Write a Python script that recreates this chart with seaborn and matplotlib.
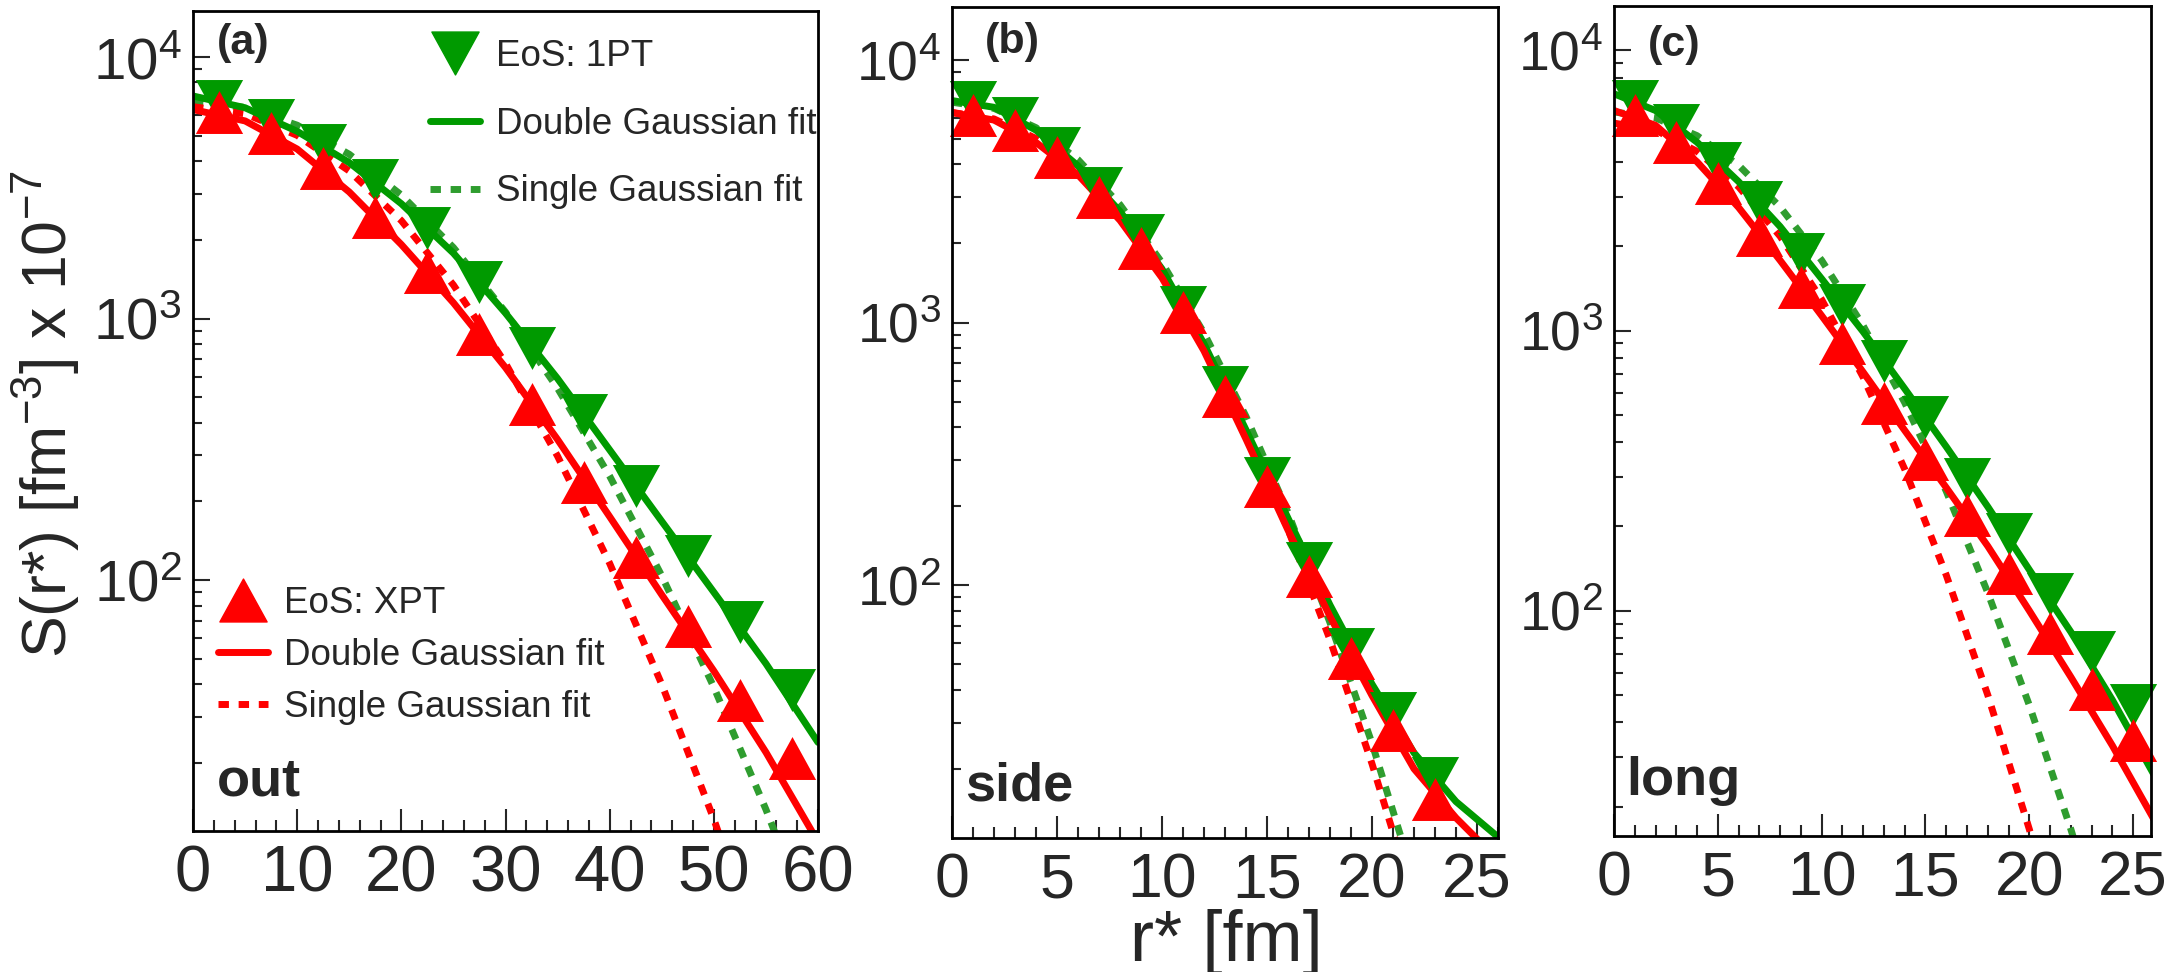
import numpy as np
import pandas as pd
import matplotlib
matplotlib.use("Agg")
import matplotlib.pyplot as plt
import seaborn as sns
from matplotlib.lines import Line2D
from matplotlib.path import Path
from matplotlib.markers import MarkerStyle
from matplotlib.ticker import LogLocator, NullFormatter, LogFormatterSciNotation, MultipleLocator

# ---------------- data ----------------
# panel (a) out
r_a = [2.5, 7.5, 12.5, 17.5, 22.5, 27.5, 32.5, 37.5, 42.5, 47.5, 52.5, 57.5]
s_a_1pt = [6800, 5750, 4600, 3400, 2230, 1380, 770, 430, 229, 124, 69, 38]
s_a_xpt = [6150, 5130, 3760, 2450, 1510, 870, 470, 237, 123, 67, 35, 21]
fx_a = [0, 5, 10, 15, 20, 25, 30, 35, 40, 45, 50, 55, 60]
dg_a_1pt = [7100, 6400, 5200, 3950, 2750, 1780, 1050, 590, 315, 168, 90, 48, 24]
sg_a_1pt = [6760, 6420, 5490, 4250, 2970, 1870, 1060, 542, 250, 104, 39, 13.3, 4.1]
dg_a_xpt = [6300, 5700, 4450, 3050, 1920, 1150, 650, 345, 175, 88, 45, 22, 10]
sg_a_xpt = [6460, 6070, 5020, 3670, 2370, 1345, 675, 298, 116, 40, 12.2, 3.3, 0.77]

# panel (b) side
r_b = [1, 3, 5, 7, 9, 11, 13, 15, 17, 19, 21, 23]
s_b_1pt = [6900, 6000, 4600, 3250, 2150, 1150, 570, 257, 122, 57, 32.5, 18.5]
s_b_xpt = [6150, 5400, 4250, 3000, 1930, 1100, 527, 238, 108, 52.6, 28, 15.4]
fx_b = [0, 2, 4, 6, 8, 10, 12, 14, 16, 18, 20, 22, 24, 26]
dg_b_1pt = [7000, 6600, 5400, 3950, 2650, 1600, 830, 390, 180, 84, 42, 23, 15, 11]
sg_b_1pt = [6900, 6540, 5520, 4170, 2810, 1690, 912, 439, 189, 72, 25, 7.6, 2.1, 0.51]
dg_b_xpt = [6300, 5900, 4850, 3650, 2450, 1480, 780, 360, 162, 76, 38, 20, 13, 9]
sg_b_xpt = [6310, 5960, 5020, 3780, 2530, 1510, 807, 385, 163, 62, 20.9, 6.3, 1.7, 0.4]

# panel (c) long
r_c = [1, 3, 5, 7, 9, 11, 13, 15, 17, 19, 21, 23, 25]
s_c_1pt = [6580, 5430, 3970, 2870, 1870, 1230, 776, 490, 295, 188, 115, 71, 46]
s_c_xpt = [5870, 4700, 3350, 2190, 1430, 900, 550, 347, 219, 136, 83, 52.5, 34.7]
fx_c = [0, 2, 4, 6, 8, 10, 12, 14, 16, 18, 20, 22, 24, 26]
dg_c_1pt = [7000, 6100, 4700, 3400, 2350, 1530, 990, 620, 385, 235, 140, 84, 48, 26]
sg_c_1pt = [6030, 5740, 4960, 3890, 2760, 1780, 1040, 553, 267, 116, 46, 16.6, 5.4, 1.6]
dg_c_xpt = [6100, 5400, 4000, 2750, 1780, 1130, 710, 440, 275, 170, 100, 58, 33, 18]
sg_c_xpt = [5500, 5190, 4360, 3260, 2170, 1290, 681, 320, 134, 50, 16.6, 4.9, 1.3, 0.3]

panel_tags = ["(a)", "(b)", "(c)"]
panel_dirs = ["out", "side", "long"]
legend_1pt = ["EoS: 1PT", "Double Gaussian fit", "Single Gaussian fit"]
legend_xpt = ["EoS: XPT", "Double Gaussian fit", "Single Gaussian fit"]
xlabel = "r* [fm]"
ylabel = r"S(r*) [fm$^{-3}$] x 10$^{-7}$"

# ---------------- style ----------------
sns.set_style("ticks")
plt.rcParams["font.family"] = ["Liberation Sans", "DejaVu Sans"]
plt.rcParams["mathtext.fontset"] = "custom"
plt.rcParams["mathtext.rm"] = "Liberation Sans"
plt.rcParams["mathtext.it"] = "Liberation Sans:italic"
plt.rcParams["mathtext.bf"] = "Liberation Sans:bold"

GREEN = "#009a00"
GREEN_D = "#2f9d2f"
RED = "#ff0000"
LW = 5.0
DOT = (0, (1.5, 1.4))
MS = 34.0

UP = MarkerStyle(Path([(0, 0.5), (-0.55, -0.5), (0.55, -0.5), (0, 0.5)],
                      [Path.MOVETO, Path.LINETO, Path.LINETO, Path.CLOSEPOLY]))
DOWN = MarkerStyle(Path([(0, -0.5), (-0.55, 0.5), (0.55, 0.5), (0, -0.5)],
                        [Path.MOVETO, Path.LINETO, Path.LINETO, Path.CLOSEPOLY]))

W, H = 2181, 972
fig = plt.figure(figsize=(W / 100, H / 100), dpi=100)


def rect(l, r, t, b):
    return [l / W, 1 - b / H, (r - l) / W, (b - t) / H]


axa = fig.add_axes(rect(193, 818, 11, 831))
axb = fig.add_axes(rect(952, 1498, 7, 838))
axc = fig.add_axes(rect(1614, 2151, 6, 836))

panels = [
    (axa, r_a, s_a_1pt, s_a_xpt, fx_a, dg_a_1pt, sg_a_1pt, dg_a_xpt, sg_a_xpt,
     (0, 60), (11, 1.5e4), 10, 2, 47, 42),
    (axb, r_b, s_b_1pt, s_b_xpt, fx_b, dg_b_1pt, sg_b_1pt, dg_b_xpt, sg_b_xpt,
     (0, 26), (10.9, 1.59e4), 5, 1, 45, 40),
    (axc, r_c, s_c_1pt, s_c_xpt, fx_c, dg_c_1pt, sg_c_1pt, dg_c_xpt, sg_c_xpt,
     (0, 25.86), (15.7, 1.44e4), 5, 1, 45, 40),
]

for i, (ax, r, s1, sx, fx, dg1, sg1, dgx, sgx, xl, yl, xmaj, xmin, xfs, yfs) in enumerate(panels):
    ax.set_yscale("log")
    sns.lineplot(x=fx, y=sg1, ax=ax, color=GREEN_D, lw=LW, linestyle=DOT, errorbar=None,
                 estimator=None, sort=False, zorder=2)
    sns.lineplot(x=fx, y=sgx, ax=ax, color=RED, lw=LW, linestyle=DOT, errorbar=None,
                 estimator=None, sort=False, zorder=2)
    sns.lineplot(x=fx, y=dg1, ax=ax, color=GREEN, lw=LW, errorbar=None,
                 estimator=None, sort=False, zorder=3)
    sns.lineplot(x=fx, y=dgx, ax=ax, color=RED, lw=LW, errorbar=None,
                 estimator=None, sort=False, zorder=3)
    sns.scatterplot(x=r, y=s1, ax=ax, marker=DOWN, s=MS ** 2, color=GREEN,
                    linewidth=0, zorder=4, clip_on=False)
    sns.scatterplot(x=r, y=sx, ax=ax, marker=UP, s=MS ** 2, color=RED,
                    linewidth=0, zorder=5, clip_on=False)
    ax.set_xlim(*xl)
    ax.set_ylim(*yl)
    ax.set_xlabel("")
    ax.set_ylabel("")
    ax.xaxis.set_major_locator(MultipleLocator(xmaj))
    ax.xaxis.set_minor_locator(MultipleLocator(xmin))
    ax.yaxis.set_major_locator(LogLocator(base=10))
    ax.yaxis.set_minor_locator(LogLocator(base=10, subs=np.arange(2, 10)))
    ax.yaxis.set_major_formatter(LogFormatterSciNotation())
    ax.yaxis.set_minor_formatter(NullFormatter())
    ax.tick_params(axis="x", which="major", direction="in", length=16, width=1.5,
                   labelsize=xfs, pad=10, top=False)
    ax.tick_params(axis="x", which="minor", direction="in", length=8, width=1.5, top=False)
    ax.tick_params(axis="y", which="major", direction="in", length=12, width=1.5,
                   labelsize=yfs, pad=8, right=False)
    ax.tick_params(axis="y", which="minor", direction="in", length=6.5, width=1.5, right=False)
    for sp in ax.spines.values():
        sp.set_linewidth(2)
        sp.set_color("black")
        sp.set_zorder(6)
    ax.set_facecolor("white")

# panel tags and direction labels
tag_pos = [(0.038, 0.985), (0.06, 0.982), (0.063, 0.977)]
dir_pos = [(0.038, 0.043), (0.024, 0.045), (0.022, 0.049)]
for ax, tag, d, tp, dp in zip([axa, axb, axc], panel_tags, panel_dirs, tag_pos, dir_pos):
    ax.text(tp[0], tp[1], tag, transform=ax.transAxes, fontsize=31, fontweight="bold",
            ha="left", va="top", zorder=7)
    ax.text(dp[0], dp[1], d, transform=ax.transAxes, fontsize=39, fontweight="bold",
            ha="left", va="baseline", zorder=7)

# legends in panel (a)
h1 = [Line2D([], [], marker=DOWN, markersize=MS, color=GREEN, linestyle="None"),
      Line2D([], [], color=GREEN, lw=LW),
      Line2D([], [], color=GREEN_D, lw=LW, linestyle=DOT)]
hx = [Line2D([], [], marker=UP, markersize=MS, color=RED, linestyle="None"),
      Line2D([], [], color=RED, lw=LW),
      Line2D([], [], color=RED, lw=LW, linestyle=DOT)]
leg1 = axa.legend(h1, legend_1pt, loc="upper left", bbox_to_anchor=(0.379, 0.966),
                  frameon=False, fontsize=26.5, borderpad=0, borderaxespad=0,
                  handlelength=1.37, handletextpad=0.42, labelspacing=0.89)
axa.add_artist(leg1)
leg2 = axa.legend(hx, legend_xpt, loc="upper left", bbox_to_anchor=(0.04, 0.299),
                  frameon=False, fontsize=26.5, borderpad=0, borderaxespad=0,
                  handlelength=1.37, handletextpad=0.42, labelspacing=0.46)

fig.text(46 / W, 1 - 414 / H, ylabel, rotation=90, ha="center", va="center", fontsize=45)
fig.text(1226 / W, 1 - 942 / H, xlabel, ha="center", va="center", fontsize=52)

fig.savefig("out.png", dpi=100, facecolor="white")
